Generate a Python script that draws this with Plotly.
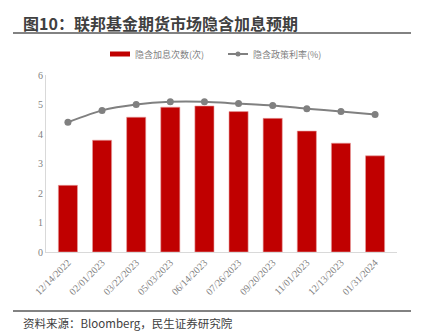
import plotly.graph_objects as go

dates = ["12/14/2022", "02/01/2023", "03/22/2023", "05/03/2023", "06/14/2023",
         "07/26/2023", "09/20/2023", "11/01/2023", "12/13/2023", "01/31/2024"]
hikes = [2.26, 3.79, 4.57, 4.91, 4.95, 4.76, 4.53, 4.10, 3.69, 3.26]
rate = [4.40, 4.80, 5.00, 5.09, 5.09, 5.03, 4.97, 4.86, 4.76, 4.66]
legend_names = ["隐含加息次数(次)", "隐含政策利率(%)"]

W, H = 425, 333
ml, mr, mt, mb = 46, 28, 75, 81
ph = H - mt - mb
pw = W - ml - mr

def px2x(p):
    return (p - ml) / pw

def py2y(p):
    return (H - mb - p) / ph

fig = go.Figure()
fig.add_trace(go.Bar(x=dates, y=hikes, name=legend_names[0],
                     marker=dict(color="#C00000", line=dict(color="#E8A0A0", width=0.6)),
                     width=0.56, showlegend=False))
fig.add_trace(go.Scatter(x=dates, y=rate, name=legend_names[1], mode="lines+markers",
                         line=dict(color="#808080", width=2, shape="spline", smoothing=0.6),
                         marker=dict(color="#808080", size=7), showlegend=False))

fig.update_layout(
    width=W, height=H,
    margin=dict(l=ml, r=mr, t=mt, b=mb),
    paper_bgcolor="white", plot_bgcolor="white",
    showlegend=False,
    xaxis=dict(type="category", tickangle=-45, showline=True, linecolor="#d9d9d9",
               linewidth=1, ticks="", showgrid=False,
               tickfont=dict(family="Liberation Serif", size=10, color="#7f7f7f")),
    yaxis=dict(range=[0, 6], dtick=1, showline=True, linecolor="#d9d9d9", linewidth=1,
               ticks="", showgrid=False, zeroline=False,
               tickfont=dict(family="Liberation Serif", size=10, color="#7f7f7f")),
)

# Title
fig.add_annotation(text="<b>图10：联邦基金期货市场隐含加息预期</b>", xref="paper", yref="paper",
                   x=px2x(21), y=py2y(23), xanchor="left", yanchor="middle",
                   showarrow=False, font=dict(family="Noto Sans CJK SC", size=16, color="#404040"))
# Source
fig.add_annotation(text="资料来源：Bloomberg，民生证券研究院", xref="paper", yref="paper",
                   x=px2x(21), y=py2y(323), xanchor="left", yanchor="middle",
                   showarrow=False, font=dict(family="Noto Sans CJK SC", size=11.5, color="#404040"))

# Rules
for yy in (33, 311):
    fig.add_shape(type="line", xref="paper", yref="paper", x0=px2x(13), x1=px2x(411),
                  y0=py2y(yy), y1=py2y(yy), line=dict(color="#595959", width=1.5))

# Manual legend
ly = 54
fig.add_shape(type="rect", xref="paper", yref="paper", x0=px2x(110), x1=px2x(130),
              y0=py2y(ly - 2.5), y1=py2y(ly + 2.5), fillcolor="#C00000", line=dict(width=0))
fig.add_annotation(text=legend_names[0], xref="paper", yref="paper", x=px2x(133), y=py2y(ly),
                   xanchor="left", yanchor="middle", showarrow=False,
                   font=dict(family="Noto Sans CJK SC", size=9, color="#7f7f7f"))
fig.add_shape(type="line", xref="paper", yref="paper", x0=px2x(228), x1=px2x(248),
              y0=py2y(ly), y1=py2y(ly), line=dict(color="#808080", width=2))
fig.add_shape(type="circle", xref="paper", yref="paper", x0=px2x(235.5), x1=px2x(240.5),
              y0=py2y(ly - 2.5), y1=py2y(ly + 2.5), fillcolor="#808080", line=dict(width=0))
fig.add_annotation(text=legend_names[1], xref="paper", yref="paper", x=px2x(251), y=py2y(ly),
                   xanchor="left", yanchor="middle", showarrow=False,
                   font=dict(family="Noto Sans CJK SC", size=9, color="#7f7f7f"))

fig.write_html("out.html")
